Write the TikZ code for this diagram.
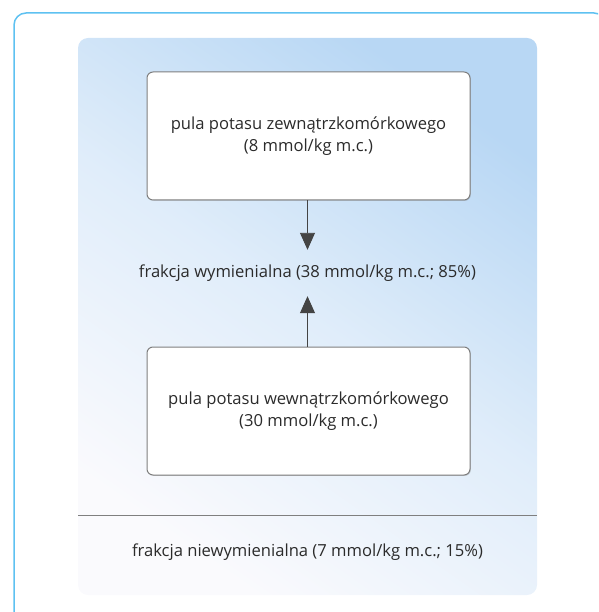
\documentclass[tikz,border=0pt]{standalone}
\usepackage{fontspec}
\setmainfont{Open Sans}
\usetikzlibrary{arrows.meta,shadows}
\definecolor{outerblue}{HTML}{5EC1F1}
\definecolor{panelblue}{HTML}{B8D7F4}
\definecolor{panelmid}{HTML}{E0EDFA}
\definecolor{panelwhite}{HTML}{FAFAFD}
\definecolor{boxgray}{HTML}{7F7F7F}
\definecolor{arrowgray}{HTML}{444444}
\definecolor{txt}{HTML}{2B2B2B}
\tikzset{
  poolbox/.style={draw=boxgray, line width=1pt, fill=white, rounded corners=6pt,
    minimum width=323pt, minimum height=128pt, align=center, font=\fontsize{16.6}{22}\selectfont, text=txt,
    drop shadow={shadow xshift=0.8pt, shadow yshift=-0.8pt, opacity=0.35, fill=gray}},
  label/.style={align=center, font=\fontsize{16.6}{22}\selectfont, text=txt},
  conn/.style={draw=arrowgray, line width=0.9pt, -{Triangle[width=15pt,length=17pt]}},
}
\begin{document}
\begin{tikzpicture}[x=1pt,y=-1pt]
\useasboundingbox (0,0) rectangle (598,612);
\begin{scope}
\clip (0,0) rectangle (598,612);
\draw[outerblue, line width=1.5pt, rounded corners=12pt] (14,13) rectangle (606,630);
\end{scope}
\shade[rounded corners=10pt, top color=panelblue, bottom color=panelwhite, middle color=panelmid, shading angle=-35] (78,38) rectangle (537,595);
\node[poolbox] (top) at (308.5,136) {pula potasu zewnątrzkomórkowego\\(8 mmol/kg m.c.)};
\node[poolbox] (bot) at (308.5,411) {pula potasu wewnątrzkomórkowego\\(30 mmol/kg m.c.)};
\node[label, minimum height=46pt, inner sep=0pt] (mid) at (307.5,273) {frakcja wymienialna (38 mmol/kg m.c.; 85\%)};
\draw[conn] (top.south -| mid.north) -- (mid.north);
\draw[conn] (bot.north -| mid.south) -- (mid.south);
\coordinate (hl) at (78,515);
\coordinate (hr) at (537,515);
\draw[boxgray, line width=1pt] (hl) -- (hr);
\node[label] (nonex) at (307.5,552) {frakcja niewymienialna (7 mmol/kg m.c.; 15\%)};
\end{tikzpicture}
\end{document}
